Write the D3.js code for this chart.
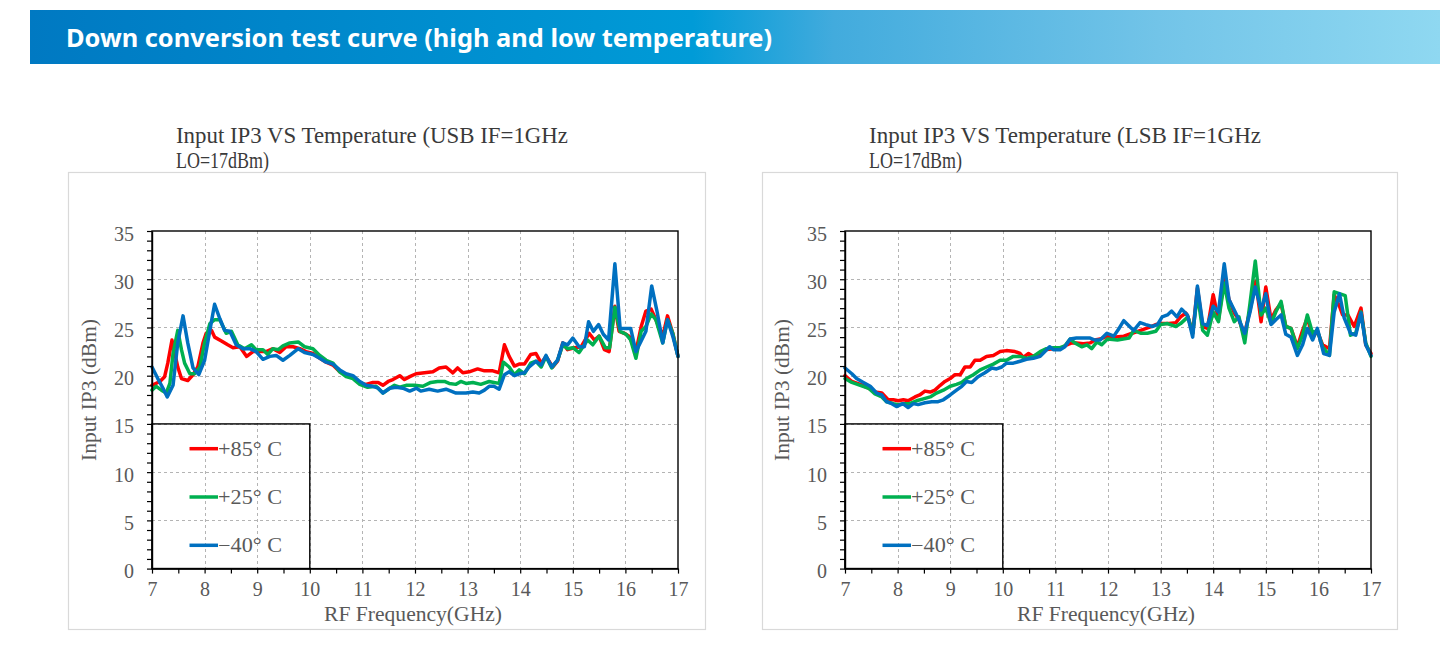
<!DOCTYPE html>
<html>
<head>
<meta charset="utf-8">
<script src="https://cdn.jsdelivr.net/npm/d3@7"></script>
<style>
  html, body { margin: 0; padding: 0; background: #fff; }
  svg { display: block; }
</style>
</head>
<body>
<svg id="chart" width="1440" height="661"></svg>
<script>
// ---------------- DATA ----------------
const pageTitle = "Down conversion test curve (high and low temperature)";
const chartTitlesUSB = ["Input IP3 VS Temperature (USB IF=1GHz", "LO=17dBm)"];
const chartTitlesLSB = ["Input IP3 VS Temperature (LSB IF=1GHz", "LO=17dBm)"];
const seriesNames = ["+85° C", "+25° C", "\u221240° C"];
const seriesColors = ["#ff0000", "#00b050", "#0070c0"];
const yTickValues = [0, 5, 10, 15, 20, 25, 30, 35];
const xTickValues = [7, 8, 9, 10, 11, 12, 13, 14, 15, 16, 17];
const xLabel = "RF Frequency(GHz)";
const yLabel = "Input IP3 (dBm)";

// [RF frequency GHz, IIP3 dBm]
const usb85 = [[7.0,19.0],[7.15,19.4],[7.24,19.9],[7.3,21.3],[7.38,23.7],[7.49,20.9],[7.56,19.7],[7.68,19.5],[7.78,20.1],[7.87,20.9],[7.97,23.4],[8.03,24.4],[8.13,24.7],[8.19,24.0],[8.32,23.6],[8.44,23.2],[8.54,22.9],[8.67,23.0],[8.8,22.0],[8.92,22.5],[9.05,22.5],[9.17,22.5],[9.3,22.8],[9.43,22.4],[9.55,23.0],[9.68,23.0],[9.81,22.8],[9.93,22.5],[10.06,22.3],[10.19,21.8],[10.31,21.4],[10.44,21.1],[10.57,20.4],[10.69,20.1],[10.82,19.9],[10.95,19.2],[11.07,19.1],[11.2,19.3],[11.3,19.3],[11.39,19.0],[11.49,19.4],[11.58,19.6],[11.71,20.0],[11.8,19.6],[11.9,19.9],[12.02,20.2],[12.18,20.3],[12.34,20.4],[12.46,20.8],[12.59,20.9],[12.72,20.3],[12.81,20.8],[12.91,20.3],[13.03,20.4],[13.19,20.7],[13.32,20.5],[13.48,20.5],[13.6,20.3],[13.7,23.2],[13.79,22.0],[13.89,21.0],[13.98,21.2],[14.08,21.2],[14.2,22.2],[14.3,22.3],[14.4,21.3],[14.49,22.0],[14.62,20.9],[14.71,21.5],[14.81,23.4],[14.9,22.7],[15.03,22.9],[15.16,23.0],[15.31,24.4],[15.41,23.7],[15.5,24.1],[15.6,22.7],[15.69,22.5],[15.8,27.2],[15.88,24.6],[15.98,24.4],[16.07,24.1],[16.2,22.5],[16.3,25.1],[16.39,26.7],[16.49,26.9],[16.58,25.8],[16.71,24.1],[16.8,26.2],[16.9,24.4],[17.0,22.0]];
const usb25 = [[7.0,18.5],[7.08,18.9],[7.18,18.5],[7.27,18.2],[7.34,19.2],[7.4,22.3],[7.49,24.7],[7.56,22.7],[7.62,21.3],[7.72,20.2],[7.81,20.2],[7.91,20.9],[8.0,23.4],[8.1,25.4],[8.19,25.8],[8.29,25.8],[8.41,24.4],[8.51,24.6],[8.63,23.2],[8.76,22.8],[8.89,23.2],[8.98,22.7],[9.11,22.7],[9.2,22.2],[9.3,22.8],[9.4,22.7],[9.49,23.1],[9.62,23.4],[9.78,23.5],[9.9,23.0],[10.06,22.8],[10.19,22.1],[10.31,21.6],[10.44,21.3],[10.57,20.4],[10.69,19.9],[10.82,19.7],[10.95,19.1],[11.1,18.8],[11.26,18.9],[11.39,18.2],[11.52,18.7],[11.61,19.0],[11.71,18.8],[11.83,19.0],[11.99,19.0],[12.15,18.9],[12.3,19.3],[12.43,19.4],[12.56,19.4],[12.65,19.2],[12.78,19.1],[12.87,19.4],[12.97,19.2],[13.1,19.3],[13.25,19.1],[13.41,19.4],[13.5,19.3],[13.6,19.2],[13.68,21.4],[13.79,20.9],[13.89,20.1],[13.98,20.6],[14.08,20.2],[14.2,21.3],[14.3,21.5],[14.4,20.9],[14.49,22.0],[14.6,20.8],[14.71,21.6],[14.81,23.2],[14.9,22.8],[15.0,22.9],[15.12,22.4],[15.28,23.7],[15.38,23.2],[15.5,24.1],[15.62,22.9],[15.7,22.9],[15.8,27.1],[15.9,24.6],[16.01,24.3],[16.1,23.7],[16.2,21.8],[16.3,24.6],[16.39,25.1],[16.49,26.4],[16.58,25.8],[16.71,23.4],[16.8,25.8],[16.9,24.4],[17.0,22.0]];
const usbM40 = [[7.0,20.9],[7.11,19.7],[7.21,18.7],[7.29,17.8],[7.4,19.0],[7.49,23.4],[7.59,26.2],[7.68,23.4],[7.78,20.8],[7.89,20.1],[8.0,21.6],[8.1,24.7],[8.19,27.4],[8.29,25.9],[8.38,24.7],[8.48,24.6],[8.6,23.2],[8.73,22.8],[8.86,22.8],[8.98,22.5],[9.11,21.7],[9.24,22.0],[9.36,22.1],[9.49,21.6],[9.62,22.1],[9.78,22.8],[9.9,22.4],[10.06,22.2],[10.19,21.8],[10.31,21.4],[10.44,21.2],[10.57,20.6],[10.69,20.2],[10.82,20.0],[10.95,19.4],[11.07,19.0],[11.2,18.9],[11.3,18.7],[11.39,18.2],[11.52,18.7],[11.64,18.8],[11.77,18.7],[11.9,18.4],[12.03,18.7],[12.11,18.4],[12.27,18.6],[12.43,18.4],[12.59,18.6],[12.78,18.2],[12.97,18.2],[13.1,18.3],[13.22,18.2],[13.32,18.5],[13.41,18.9],[13.5,18.9],[13.6,18.6],[13.7,20.1],[13.79,20.4],[13.89,20.0],[13.98,20.2],[14.08,20.3],[14.17,20.9],[14.3,21.5],[14.4,21.1],[14.49,22.1],[14.6,20.9],[14.71,21.6],[14.81,23.4],[14.9,23.2],[15.0,23.9],[15.12,23.0],[15.22,23.0],[15.3,25.6],[15.39,24.6],[15.49,25.3],[15.58,24.3],[15.68,23.7],[15.8,31.6],[15.9,24.9],[16.01,24.9],[16.1,24.9],[16.2,22.5],[16.3,23.6],[16.39,24.6],[16.5,29.3],[16.6,26.7],[16.71,23.4],[16.8,25.8],[16.9,24.1],[17.0,22.0]];

const lsb85 = [[7.0,20.0],[7.13,19.4],[7.29,19.1],[7.45,18.7],[7.57,18.3],[7.7,18.2],[7.82,17.5],[7.92,17.5],[8.01,17.4],[8.11,17.5],[8.2,17.4],[8.33,17.8],[8.42,18.0],[8.52,18.4],[8.62,18.3],[8.71,18.5],[8.81,19.0],[8.9,19.4],[9.0,19.7],[9.09,20.1],[9.19,20.1],[9.28,20.9],[9.38,20.9],[9.47,21.6],[9.57,21.6],[9.69,22.0],[9.82,22.1],[9.95,22.5],[10.07,22.6],[10.23,22.5],[10.33,22.3],[10.39,21.9],[10.49,22.3],[10.58,22.0],[10.71,22.3],[10.83,22.7],[10.96,22.8],[11.09,22.8],[11.22,23.2],[11.31,23.4],[11.4,23.4],[11.53,23.3],[11.66,23.4],[11.75,23.7],[11.85,23.8],[11.99,24.1],[12.15,24.0],[12.3,24.1],[12.46,24.4],[12.62,24.7],[12.78,25.0],[12.91,25.3],[13.03,25.4],[13.16,25.4],[13.29,25.5],[13.38,26.1],[13.48,26.5],[13.52,26.1],[13.61,24.4],[13.7,29.1],[13.8,25.1],[13.89,24.9],[14.0,28.4],[14.1,25.8],[14.21,30.1],[14.3,27.9],[14.4,26.5],[14.49,25.8],[14.59,24.2],[14.7,26.8],[14.81,29.8],[14.91,25.6],[15.0,29.2],[15.1,25.8],[15.19,26.8],[15.29,27.5],[15.38,25.1],[15.48,24.9],[15.6,23.0],[15.7,24.7],[15.79,26.0],[15.89,24.0],[15.98,24.6],[16.08,23.2],[16.21,22.8],[16.3,28.4],[16.4,27.2],[16.46,26.3],[16.56,26.3],[16.68,25.1],[16.81,27.0],[16.9,23.2],[17.0,22.3]];
const lsb25 = [[7.0,19.7],[7.13,19.3],[7.29,19.0],[7.45,18.7],[7.57,18.1],[7.7,17.8],[7.79,17.3],[7.92,17.1],[8.01,17.0],[8.11,17.1],[8.23,17.1],[8.36,17.4],[8.49,17.6],[8.62,17.8],[8.74,18.2],[8.87,18.5],[9.0,18.9],[9.12,19.1],[9.22,19.3],[9.31,19.7],[9.44,20.1],[9.57,20.6],[9.69,20.9],[9.82,21.2],[9.95,21.6],[10.07,21.6],[10.2,22.0],[10.33,22.0],[10.45,21.8],[10.58,22.0],[10.71,22.5],[10.83,22.8],[10.96,22.9],[11.09,22.9],[11.18,23.1],[11.28,23.8],[11.37,23.4],[11.5,23.0],[11.6,23.2],[11.69,22.8],[11.79,23.5],[11.88,23.2],[11.99,23.8],[12.18,23.7],[12.4,23.9],[12.49,24.7],[12.62,24.4],[12.75,24.4],[12.91,24.6],[13.0,25.3],[13.13,25.4],[13.29,25.1],[13.38,25.4],[13.52,26.1],[13.61,24.4],[13.7,28.4],[13.8,24.7],[13.89,24.2],[14.0,26.6],[14.1,25.6],[14.21,29.6],[14.3,27.0],[14.4,25.6],[14.49,26.1],[14.6,23.4],[14.7,27.5],[14.8,31.9],[14.91,26.3],[15.0,27.0],[15.1,25.4],[15.19,26.6],[15.29,27.7],[15.38,25.1],[15.48,24.9],[15.6,22.8],[15.7,24.2],[15.79,26.3],[15.89,24.4],[15.98,24.7],[16.08,23.0],[16.21,22.1],[16.3,28.7],[16.4,28.5],[16.51,28.3],[16.61,24.2],[16.71,24.4],[16.81,26.6],[16.9,23.4],[17.0,22.0]];
const lsbM40 = [[7.0,20.8],[7.13,20.2],[7.22,19.7],[7.35,19.3],[7.48,18.9],[7.6,18.2],[7.7,18.0],[7.79,17.3],[7.89,17.1],[7.98,16.8],[8.1,17.1],[8.2,16.7],[8.3,17.1],[8.39,17.0],[8.52,17.2],[8.65,17.3],[8.77,17.3],[8.87,17.5],[9.0,18.0],[9.12,18.5],[9.22,18.9],[9.31,19.4],[9.41,19.3],[9.53,19.9],[9.66,20.3],[9.79,20.8],[9.88,20.7],[9.98,20.9],[10.07,21.3],[10.2,21.3],[10.33,21.5],[10.45,21.7],[10.58,21.8],[10.71,22.0],[10.8,22.5],[10.89,23.0],[10.96,22.7],[11.09,22.7],[11.18,23.0],[11.28,23.8],[11.4,23.9],[11.53,23.9],[11.66,23.9],[11.75,23.7],[11.85,23.7],[11.98,24.4],[12.11,24.1],[12.21,24.9],[12.3,25.7],[12.43,25.0],[12.49,24.7],[12.61,25.5],[12.72,25.3],[12.84,25.1],[12.94,25.3],[13.03,26.1],[13.13,26.3],[13.21,26.7],[13.31,26.1],[13.4,26.9],[13.51,26.3],[13.61,24.0],[13.7,29.3],[13.8,25.4],[13.89,25.2],[14.0,27.2],[14.1,26.6],[14.21,31.6],[14.3,27.9],[14.4,26.8],[14.49,25.8],[14.6,24.4],[14.7,26.6],[14.8,29.2],[14.91,26.8],[15.0,28.5],[15.1,25.3],[15.19,25.8],[15.29,26.3],[15.38,24.3],[15.48,24.0],[15.6,22.1],[15.7,23.2],[15.79,24.9],[15.89,23.7],[15.98,24.9],[16.1,22.3],[16.21,22.1],[16.3,26.6],[16.4,28.5],[16.49,26.0],[16.61,24.4],[16.71,24.2],[16.81,26.5],[16.9,23.2],[17.0,22.1]];

// ---------------- DRAW ----------------
const svg = d3.select("#chart");
const defs = svg.append("defs");
const grad = defs.append("linearGradient").attr("id", "hdr").attr("x1", "0%").attr("x2", "100%");
[["0%", "#0079c2"], ["47%", "#009bd7"], ["57%", "#42abdd"], ["80%", "#72c4e8"], ["100%", "#8fd8f1"]]
  .forEach(([o, c]) => grad.append("stop").attr("offset", o).attr("stop-color", c));

svg.append("rect").attr("x", 30).attr("y", 10).attr("width", 1410).attr("height", 54).attr("fill", "url(#hdr)");
svg.append("text").attr("x", 66).attr("y", 47)
  .attr("font-family", "'Noto Sans', 'Open Sans', sans-serif").attr("font-weight", "bold")
  .attr("font-size", 25).attr("fill", "#fff")
  .attr("textLength", 706).attr("lengthAdjust", "spacingAndGlyphs")
  .text(pageTitle);

const serif = "'Liberation Serif', 'DejaVu Serif', serif";
const labelColor = "#595959";

function drawChart(cfg) {
  const g = svg.append("g");
  // outer frame
  g.append("rect").attr("x", cfg.box[0] + 0.5).attr("y", cfg.box[1] + 0.5)
    .attr("width", cfg.box[2]).attr("height", cfg.box[3])
    .attr("fill", "#fff").attr("stroke", "#d9d9d9").attr("stroke-width", 1.2);

  // title
  cfg.title.forEach((t, i) => {
    g.append("text").attr("x", cfg.titleX).attr("y", 143 + i * 25)
      .attr("font-family", serif).attr("font-size", 23).attr("fill", "#3a3a3a")
      .attr("textLength", i === 0 ? 392 : 93).attr("lengthAdjust", "spacingAndGlyphs")
      .text(t);
  });

  const x = d3.scaleLinear().domain([7, 17]).range([cfg.x0, cfg.x0 + 526]);
  const y = d3.scaleLinear().domain([0, 35]).range([568.6, 231]);

  // grid
  const grid = g.append("g").attr("stroke", "#b4b4b4").attr("stroke-width", 1).attr("stroke-dasharray", "3,3");
  d3.range(8, 17).forEach(v => {
    grid.append("line").attr("x1", Math.round(x(v)) + 0.5).attr("x2", Math.round(x(v)) + 0.5)
      .attr("y1", y(35)).attr("y2", y(0));
  });
  yTickValues.filter(v => v > 0 && v < 35).forEach(v => {
    grid.append("line").attr("x1", x(7)).attr("x2", x(17))
      .attr("y1", Math.round(y(v)) + 0.5).attr("y2", Math.round(y(v)) + 0.5);
  });

  // series
  const line = d3.line().x(d => x(d[0])).y(d => y(d[1]));
  cfg.series.forEach((s, i) => {
    g.append("path").datum(s).attr("d", line).attr("fill", "none")
      .attr("stroke", seriesColors[i]).attr("stroke-width", 3.5)
      .attr("stroke-linejoin", "round").attr("stroke-linecap", "round");
  });

  // plot border
  g.append("rect").attr("x", x(7)).attr("y", y(35)).attr("width", x(17) - x(7)).attr("height", y(0) - y(35))
    .attr("fill", "none").attr("stroke", "#000").attr("stroke-width", 1.4);

  // axes
  const yAxis = d3.axisLeft(y).tickValues(d3.range(0, 36, 1)).tickSize(5).tickSizeOuter(0).tickPadding(13)
    .tickFormat(d => yTickValues.includes(d) ? d : "");
  const ya = g.append("g").attr("transform", `translate(${x(7)},0)`).call(yAxis);
  const xAxis = d3.axisBottom(x).tickValues(d3.range(7, 17.01, 0.5)).tickSize(5).tickSizeOuter(0).tickPadding(8)
    .tickFormat(d => xTickValues.includes(d) ? d : "");
  const xa = g.append("g").attr("transform", `translate(0,${y(0)})`).call(xAxis);
  [ya, xa].forEach(a => {
    a.select(".domain").attr("stroke", "#000").attr("stroke-width", 1.4);
    a.selectAll(".tick line").attr("stroke", "#000").attr("stroke-width", 1.2);
    a.selectAll(".tick text").attr("font-family", serif).attr("font-size", 20).attr("fill", labelColor);
  });
  ya.selectAll(".tick text").attr("dy", "0.45em");

  // axis titles
  g.append("text").attr("transform", `translate(${cfg.x0 - 56},390) rotate(-90)`)
    .attr("text-anchor", "middle").attr("font-family", serif).attr("font-size", 20).attr("fill", labelColor)
    .attr("textLength", 142).attr("lengthAdjust", "spacingAndGlyphs")
    .text(yLabel);
  g.append("text").attr("x", cfg.x0 + 261).attr("y", 621)
    .attr("text-anchor", "middle").attr("font-family", serif).attr("font-size", 20).attr("fill", labelColor)
    .attr("textLength", 178).attr("lengthAdjust", "spacingAndGlyphs")
    .text(xLabel);

  // legend
  const lg = g.append("g");
  lg.append("rect").attr("x", x(7)).attr("y", y(15)).attr("width", x(10) - x(7)).attr("height", y(0) - y(15))
    .attr("fill", "none").attr("stroke", "#000").attr("stroke-width", 1.4);
  seriesNames.forEach((n, i) => {
    const ly = 448.7 + i * 48.3;
    lg.append("line").attr("x1", x(7) + 37.5).attr("x2", x(7) + 66).attr("y1", ly).attr("y2", ly)
      .attr("stroke", seriesColors[i]).attr("stroke-width", 3.5);
    lg.append("text").attr("x", x(7) + 66).attr("y", ly + 7)
      .attr("font-family", serif).attr("font-size", 20).attr("fill", labelColor)
      .attr("textLength", 64).attr("lengthAdjust", "spacingAndGlyphs")
      .text(n);
  });
}

drawChart({ box: [68, 172, 637, 457], titleX: 176, x0: 152, title: chartTitlesUSB, series: [usb85, usb25, usbM40] });
drawChart({ box: [762, 172, 635, 457], titleX: 869, x0: 845, title: chartTitlesLSB, series: [lsb85, lsb25, lsbM40] });
</script>
</body>
</html>
